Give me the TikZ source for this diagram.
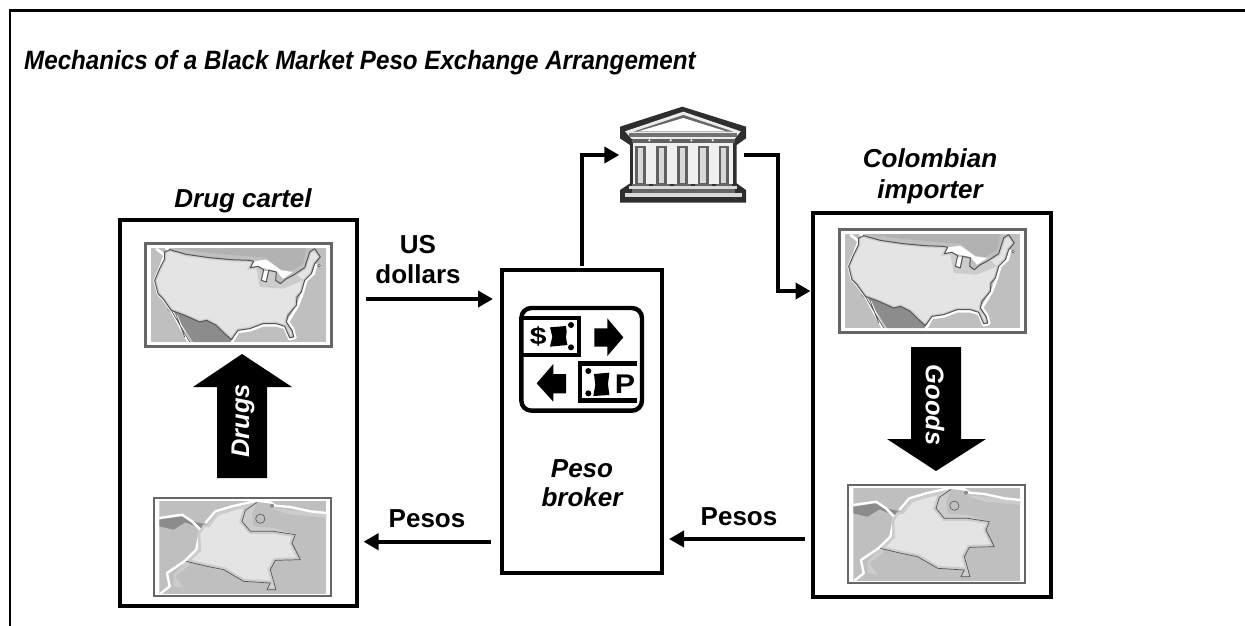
\documentclass[tikz,border=0pt]{standalone}
\usepackage{fontspec}
\setmainfont{Liberation Sans}
\usetikzlibrary{arrows.meta,calc}
\tikzset{
  boxed/.style={draw=black,line width=4pt,fill=none,inner sep=0pt},
  conn/.style={line width=3.8pt,draw=black,-{Triangle[width=16pt,length=15pt]}},
  plainlab/.style={font=\fontsize{26}{26}\selectfont\bfseries,anchor=base,inner sep=0pt},
  itallab/.style={font=\fontsize{26}{26}\selectfont\bfseries\itshape,anchor=base,inner sep=0pt},
  arrowlab/.style={font=\fontsize{25.5}{26}\selectfont\bfseries\itshape,text=white,inner sep=0pt},
  iconlab/.style={font=\fontsize{24}{24}\selectfont\bfseries,inner sep=0pt,xscale=1.25,transform shape},
}
\definecolor{mapbg}{gray}{0.75}
\definecolor{mapland}{gray}{0.895}
\definecolor{maphalo}{gray}{0.80}
\definecolor{mapdark}{gray}{0.55}
\definecolor{mapline}{gray}{0.33}
\definecolor{mapframe}{gray}{0.40}
\def\uspath{(180,208) -- (230,222) -- (300,232) -- (365,238) -- (420,240) -- (432,243) -- (422,262) -- (445,258) -- (462,268) -- (455,300) -- (470,305) -- (477,270) -- (500,275) -- (498,300) -- (512,310) -- (530,295) -- (550,285) -- (585,262) -- (592,240) -- (600,215) -- (615,205) -- (632,230) -- (615,250) -- (605,280) -- (585,300) -- (575,335) -- (562,350) -- (560,375) -- (535,405) -- (530,425) -- (548,452) -- (552,470) -- (540,472) -- (525,438) -- (500,430) -- (460,430) -- (420,445) -- (385,450) -- (365,478) -- (345,460) -- (320,435) -- (290,420) -- (270,425) -- (225,405) -- (185,390) -- (160,355) -- (145,340) -- (135,300) -- (150,265) -- (165,235) -- (165,215) -- cycle}
\def\colpath{(293,405) -- (320,370) -- (370,355) -- (410,345) -- (440,338) -- (405,362) -- (395,395) -- (420,425) -- (490,425) -- (555,435) -- (545,460) -- (570,510) -- (495,512) -- (480,540) -- (497,600) -- (470,600) -- (480,580) -- (400,575) -- (340,540) -- (290,530) -- (228,515) -- (265,480) -- (262,430) -- (280,405) -- cycle}
\newcommand{\drawUSmap}[2]{%
\begin{scope}[shift={(#1-103/3,#2-185/3)},scale=1/3]
  \fill[white] (103,185) rectangle (670,503);
  \begin{scope}
    \clip (123,203) rectangle (650,485);
    \fill[mapbg] (123,203) rectangle (650,485);
    \fill[black!30] (190,203) -- (590,203) -- (580,250) -- (545,272) -- (515,268) -- (470,232) -- (420,228) -- (300,218) -- cycle;
    \fill[mapdark] (170,385) -- (225,405) -- (270,425) -- (290,420) -- (320,435) -- (345,460) -- (365,478) -- (365,485) -- (250,485) -- (225,445) -- (190,400) -- cycle;
    \fill[mapdark] (600,215) -- (615,205) -- (632,230) -- (615,250) -- (595,240) -- cycle;
    \draw[white,line width=2.6pt,line join=round] (140,205) -- (165,225) -- (150,265) -- (135,300) -- (145,340) -- (160,355) -- (185,390) -- (240,490);
    \draw[white,line width=2.2pt,line join=round] (200,405) -- (215,440) -- (240,490);
    \draw[white,line width=2.6pt,line join=round] (365,490) -- (385,455) -- (420,450) -- (460,435) -- (500,435) -- (525,442) -- (540,477) -- (557,472) -- (550,445) -- (535,425) -- (565,375) -- (580,335) -- (590,300) -- (612,280) -- (620,250);
    \fill[white] (432,243) -- (470,238) -- (515,270) -- (550,275) -- (520,295) -- (500,272) -- (455,262) -- (422,262) -- cycle;
    \fill[white] (462,272) -- (475,272) -- (468,305) -- (456,300) -- cycle;
    \fill[mapland] \uspath;
    \begin{scope}
      \clip \uspath;
      \draw[maphalo,line width=3.6pt] \uspath;
      \fill[maphalo] (440,262) -- (510,285) -- (560,280) -- (580,300) -- (520,325) -- (450,320) -- cycle;
    \end{scope}
    \draw[mapline,line width=1pt,line join=round] \uspath;
    \draw[mapline,line width=0.7pt] (185,390) -- (240,485) (200,405) -- (225,470);
    \fill[white] (172,204) circle (6);
    \draw[mapline,fill=white,line width=0.5pt] (628,256) circle (4);
  \end{scope}
  \draw[mapframe,line width=3.2pt] (108,190) rectangle (665,498);
\end{scope}}
\newcommand{\drawCOmap}[2]{%
\begin{scope}[shift={(#1-128/3,#2-322/3)},scale=1/3]
  \fill[white] (128,322) rectangle (665,622);
  \begin{scope}
    \clip (147,333) rectangle (648,612);
    \fill[mapbg] (147,333) rectangle (648,612);
    \fill[maphalo] (440,345) -- (480,355) -- (540,360) -- (600,368) -- (648,372) -- (648,385) -- (600,380) -- (540,375) -- (490,358) -- cycle;
    \fill[maphalo] (395,395) -- (405,362) -- (440,338) -- (425,375) -- (430,410) -- (490,415) -- (555,435) -- (490,425) -- (420,425) -- cycle;
    \fill[mapdark] (147,390) -- (215,380) -- (245,395) -- (293,405) -- (275,418) -- (225,398) -- (190,420) -- (147,410) -- cycle;
    \fill[maphalo] (228,515) -- (190,555) -- (190,590) -- (220,595) -- (195,560) -- (240,525) -- cycle;
    \draw[white,line width=2.4pt,line join=round] (147,385) -- (215,375) -- (245,395) -- (270,420) -- (258,480) -- (222,515) -- (170,550) -- (178,590) -- (150,612);
    \draw[white,line width=2.4pt,line join=round] (285,400) -- (315,365) -- (365,350) -- (440,333) -- (480,338) -- (495,348) -- (540,352) -- (600,365) -- (648,370);
    \fill[mapland] \colpath;
    \begin{scope}
      \clip \colpath;
      \draw[maphalo,line width=5pt] \colpath;
    \end{scope}
    \draw[mapline,line width=0.7pt,line join=round] (395,395) -- (405,362) -- (440,338) (395,395) -- (420,425) -- (490,425) -- (555,435) -- (545,460) -- (570,510) -- (495,512) -- (480,540) -- (497,600) -- (470,600) -- (480,580) -- (400,575) -- (340,540) -- (290,530) -- (228,515);
    \draw[mapline,fill=mapbg,line width=0.6pt] (450,387) circle (14);
    \fill[mapdark] (485,348) circle (6);
  \end{scope}
  \draw[mapframe,line width=2.4pt] (131,325) rectangle (662,619);
\end{scope}}
\begin{document}
\begin{tikzpicture}[x=1pt,y=-1pt]
\useasboundingbox (0,0) rectangle (1245,625);
\fill[white] (0,0) rectangle (1245,625);
% outer frame: left and top edges only
\draw[black,line width=2.8pt] (10,627) -- (10,10.5) -- (1247,10.5);
\node[font=\fontsize{26.5}{26.5}\selectfont\bfseries\itshape,anchor=base west,inner sep=0pt,xscale=0.912,transform shape] (title) at (24,69) {Mechanics of a Black Market Peso Exchange Arrangement};
% main boxes
\node[boxed,minimum width=237pt,minimum height=386pt] (cartel) at (238,413) {};
\node[boxed,minimum width=160pt,minimum height=303pt] (broker) at (582,421.5) {};
\node[boxed,minimum width=238pt,minimum height=384pt] (importer) at (931.5,405) {};
% bank anchor area
\node[inner sep=0pt,minimum width=124pt,minimum height=96pt] (bank) at (681.5,155) {};
% box titles
\begin{scope}
  \clip (100,170) rectangle (380,212);
  \node[itallab] (cartellab) at (243,207) {Drug cartel};
\end{scope}
\node[itallab] (implab1) at (930,167) {Colombian};
\node[itallab] (implab2) at (930,198) {importer};
\node[itallab] (brolab1) at (582,477) {Peso};
\node[itallab] (brolab2) at (582,506) {broker};
% maps
\drawUSmap{144}{242}
\drawUSmap{838}{228}
\drawCOmap{153}{497}
\drawCOmap{847}{484}
% big arrows
\fill[black] (242,354) -- (292,387) -- (267,387) -- (267,478) -- (217,478) -- (217,387) -- (193,387) -- cycle;
\node[arrowlab,rotate=90] (drugs) at (243,421) {Drugs};
\fill[black] (911,347) -- (961,347) -- (961,439) -- (986,439) -- (936,471) -- (887,439) -- (911,439) -- cycle;
\node[arrowlab,rotate=-90] (goods) at (935,405) {Goods};
% connectors
\coordinate (usd) at (0,299);
\coordinate (pl) at (0,541.7);
\coordinate (pr) at (0,539);
\coordinate (impin) at (importer.west |- 0,291);
\draw[conn,shorten <=7pt,shorten >=7pt] (cartel.east |- usd) -- (broker.west |- usd);
\draw[conn,shorten <=9pt,shorten >=5pt] (broker.west |- pl) -- (cartel.east |- pl);
\draw[conn,shorten <=6pt,shorten >=5pt] (importer.west |- pr) -- (broker.east |- pr);
\draw[conn,shorten <=2pt,shorten >=0pt] (broker.north) |- (bank.west);
\draw[conn,line join=miter] (bank.east) -- ++(34,0) |- (impin);
% connector labels
\node[plainlab] (uslab) at (418,253) {US};
\begin{scope}
  \clip (350,255) rectangle (490,283.5);
  \node[plainlab] (dollab) at (418,283) {dollars};
\end{scope}
\node[plainlab] (peslab1) at (427,527) {Pesos};
\node[plainlab] (peslab2) at (739,525) {Pesos};
% money icon
\begin{scope}[shift={(490,290)},scale=1/3]
  \draw[black,line width=4.2pt] (100,84) -- (268,84) -- (268,195) -- (100,195);
  \draw[black,line width=4.4pt] (440,221) -- (270,221) -- (270,332) -- (440,332);
  \draw[black,line width=4.4pt,rounded corners=10pt] (94,54) rectangle (456,362);
  \fill[black] (180,112) -- (228,108) -- (230,125) -- (228,142) -- (232,165) -- (180,170) -- (187,140) -- cycle;
  \fill[black] (243,105) circle (9) (243,172) circle (9);
  \fill[black] (312,252) -- (358,248) -- (354,282) -- (358,315) -- (310,318) -- (316,285) -- cycle;
  \fill[black] (295,243) circle (9) (295,310) circle (9);
  \fill[black] (313,115) -- (352,115) -- (352,85) -- (400,142) -- (352,198) -- (352,170) -- (313,170) -- cycle;
  \fill[black] (228,252) -- (190,252) -- (190,222) -- (140,280) -- (190,335) -- (190,310) -- (228,310) -- cycle;
\end{scope}
\node[iconlab] (dollarsign) at (538.3,336) {\$};
\node[iconlab,font=\fontsize{27}{27}\selectfont\bfseries,xscale=0.9] (pesosign) at (625,384.7) {P};
% bank building
\begin{scope}[shift={(570,90)},scale=1/3]
  \fill[black!82] (337,50) -- (528,110) -- (528,145) -- (500,165) -- (500,280) -- (528,300) -- (528,338) -- (150,338) -- (150,300) -- (180,280) -- (180,165) -- (150,145) -- (150,110) -- cycle;
  \fill[white!92!black] (340,65) -- (512,124) -- (492,150) -- (188,150) -- (165,124) -- cycle;
  \fill[black!60] (340,75) -- (490,125) -- (190,125) -- cycle;
  \fill[white] (340,84) -- (468,124) -- (205,124) -- cycle;
  \fill[black!55] (178,128) rectangle (502,142);
  \fill[black!62] (185,146) rectangle (495,160);
  \foreach \cx in {238,302,364,428} \fill[white] (\cx,151) circle (3.5);
  \fill[white!94!black] (190,160) rectangle (490,282);
  \foreach \cx in {212,275,338,400,462} {
    \fill[black!62] (\cx-16,168) rectangle (\cx+16,282);
    \fill[white!85!black] (\cx-9,175) rectangle (\cx+7,278);
    \fill[black!60] (\cx-25,282) rectangle (\cx+25,289);
  }
  \fill[white!85!black] (178,288) rectangle (500,296);
  \fill[black!60] (186,296) rectangle (494,308);
  \fill[white!85!black] (165,308) -- (515,308) -- (515,321) -- (165,321) -- cycle;
\end{scope}
\end{tikzpicture}
\end{document}
